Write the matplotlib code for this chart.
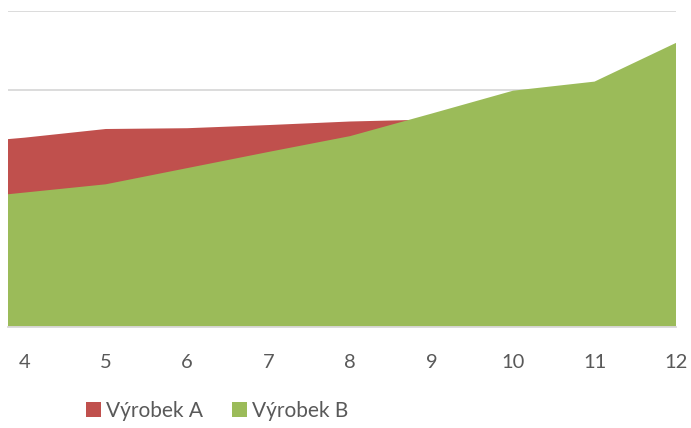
import matplotlib
matplotlib.use("Agg")
import matplotlib.pyplot as plt

# Data (category 3 lies just beyond the left edge of the visible plot)
categories = [3, 4, 5, 6, 7, 8, 9, 10, 11, 12]
tick_labels = ["4", "5", "6", "7", "8", "9", "10", "11", "12"]
vyrobek_a = [230, 239, 250, 251, 255, 259.5, 262, 265, 268, 270]
vyrobek_b = [159, 169.5, 180, 200.5, 221, 241, 269.5, 298.5, 310, 359]

RED = "#C0504D"
GREEN = "#9BBB59"
GRID = "#D9D9D9"
TXT = "#595959"

plt.rcParams['font.family'] = ['Lato', 'DejaVu Sans']

fig = plt.figure(figsize=(6.91, 4.28), dpi=100)
ax = fig.add_axes([8/691, 101.5/428, (676-8)/691, (326.5-10.5)/428])

ax.fill_between(categories, 0, vyrobek_a, color=RED, linewidth=0, label="Výrobek A", zorder=2)
ax.fill_between(categories, 0, vyrobek_b, color=GREEN, linewidth=0, label="Výrobek B", zorder=3)

ax.set_xlim(3.8, 12)
ax.set_ylim(0, 400)
ax.set_yticks([100, 200, 300, 400])
ax.yaxis.grid(True, color=GRID, linewidth=1.3, zorder=0)
ax.set_axisbelow(True)
ax.set_yticklabels([])
ax.tick_params(axis='y', length=0)

ax.set_xticks(categories[1:])
ax.set_xticklabels(tick_labels, fontsize=14.5, color=TXT)
ax.tick_params(axis='x', length=0, pad=20)

for s in ['left', 'right', 'top']:
    ax.spines[s].set_visible(False)
ax.spines['bottom'].set_color(GRID)
ax.spines['bottom'].set_linewidth(1.3)
ax.spines['bottom'].set_zorder(4)

handles, labels = ax.get_legend_handles_labels()
fig.legend(handles, labels, loc='center', bbox_to_anchor=(217/691, 1 - 411/428),
           ncol=2, frameon=False, fontsize=15, labelcolor=TXT,
           handlelength=0.7, handleheight=0.7, handletextpad=0.25, columnspacing=1.4)

fig.savefig("out.png", dpi=100)
